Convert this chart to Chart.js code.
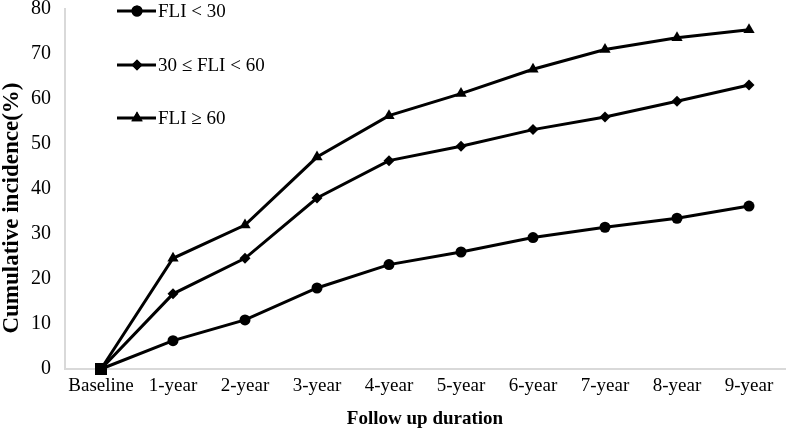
<!DOCTYPE html>
<html>
<head>
<meta charset="utf-8">
<script src="https://cdn.jsdelivr.net/npm/chart.js@4.4.1/dist/chart.umd.min.js"></script>
<style>
  html, body { margin: 0; padding: 0; background: #fff; }
  #wrap { width: 786px; height: 430px; position: relative; }
</style>
</head>
<body>
<div id="wrap"><canvas id="incidenceChart"></canvas></div>
<script>
"use strict";

const categories = ["Baseline", "1-year", "2-year", "3-year", "4-year", "5-year", "6-year", "7-year", "8-year", "9-year"];
const seriesNames = ["FLI < 30", "30 \u2264 FLI < 60", "FLI \u2265 60"];
const lowFli = [0, 6.3, 10.9, 18.0, 23.2, 26.0, 29.2, 31.5, 33.5, 36.2];
const midFli = [0, 16.7, 24.6, 38.0, 46.3, 49.5, 53.2, 56.0, 59.5, 63.1];
const highFli = [0, 24.6, 32.0, 47.1, 56.3, 61.2, 66.6, 71.0, 73.6, 75.4];
const yTicks = [0, 10, 20, 30, 40, 50, 60, 70, 80];
const yTitle = "Cumulative incidence(%)";

const serif = "'Liberation Serif', 'Times New Roman', serif";

// first point is drawn as a square, like the reference
function markerStyles(style) {
  return categories.map((c, i) => (i === 0 ? "rect" : style));
}
function markerSizes(size) {
  return categories.map((c, i) => (i === 0 ? 8.5 : size));
}

function makeDataset(label, values, style, size) {
  return {
    label: label,
    data: values,
    borderColor: "#000",
    backgroundColor: "#000",
    borderWidth: 3,
    pointStyle: markerStyles(style),
    pointRadius: markerSizes(size),
    pointBorderWidth: 0,
    pointBackgroundColor: "#000",
    tension: 0,
    clip: false,
  };
}

// legend inside the plot, stacked, plus the y title (placed a bit below centre like the original)
const innerLegend = {
  id: "innerLegend",
  afterDraw(chart) {
    const ctx = chart.ctx;
    const rows = [11, 65, 118];
    ctx.save();
    chart.data.datasets.forEach((ds, i) => {
      const y = rows[i];
      ctx.strokeStyle = "#000";
      ctx.lineWidth = 3;
      ctx.beginPath();
      ctx.moveTo(117, y);
      ctx.lineTo(156, y);
      ctx.stroke();
      Chart.helpers.drawPoint(ctx, {
        pointStyle: ds.pointStyle[1],
        radius: ds.pointRadius[1],
        rotation: 0,
        borderWidth: 0,
      }, 137, y);
      ctx.fillStyle = "#000";
      ctx.fill();
      ctx.font = "19px " + serif;
      ctx.textBaseline = "middle";
      ctx.textAlign = "left";
      ctx.fillText(ds.label, 158, y + 1);
    });

    ctx.translate(12, 208);
    ctx.rotate(-Math.PI / 2);
    ctx.font = "bold 23px " + serif;
    ctx.textAlign = "center";
    ctx.textBaseline = "middle";
    ctx.fillStyle = "#000";
    ctx.fillText(yTitle, 0, 0);
    ctx.restore();
  },
};

new Chart(document.getElementById("incidenceChart"), {
  type: "line",
  data: {
    labels: categories,
    datasets: [
      makeDataset(seriesNames[0], lowFli, "circle", 5.5),
      makeDataset(seriesNames[1], midFli, "rectRot", 5.5),
      makeDataset(seriesNames[2], highFli, "triangle", 6.5),
    ],
  },
  options: {
    responsive: true,
    maintainAspectRatio: false,
    animation: false,
    layout: { autoPadding: false, padding: { top: 9, right: 1, left: 0, bottom: 0 } },
    plugins: {
      legend: { display: false },
      tooltip: { enabled: false },
    },
    scales: {
      x: {
        offset: true,
        grid: { display: false, drawTicks: false },
        border: { display: true, color: "#d9d9d9", width: 2 },
        ticks: {
          color: "#000",
          font: { family: serif, size: 19 },
          padding: 6,
          maxRotation: 0,
          autoSkip: false,
        },
        title: {
          display: true,
          text: "Follow up duration",
          color: "#000",
          font: { family: serif, size: 19, weight: "bold" },
          padding: { top: 0, bottom: 0 },
        },
        afterFit(scale) {
          scale.height = 61;
          scale.paddingLeft = 0;
          scale.paddingRight = 0;
        },
      },
      y: {
        min: 0,
        max: 80,
        afterBuildTicks(scale) { scale.ticks = yTicks.map((v) => ({ value: v })); },
        grid: { display: false, drawTicks: false },
        border: { display: true, color: "#d9d9d9", width: 2 },
        ticks: {
          color: "#000",
          font: { family: serif, size: 20 },
          padding: 14,
        },
        afterFit(scale) {
          scale.width = 65;
          scale.paddingTop = 0;
          scale.paddingBottom = 0;
        },
      },
    },
  },
  plugins: [innerLegend],
});
</script>
</body>
</html>
